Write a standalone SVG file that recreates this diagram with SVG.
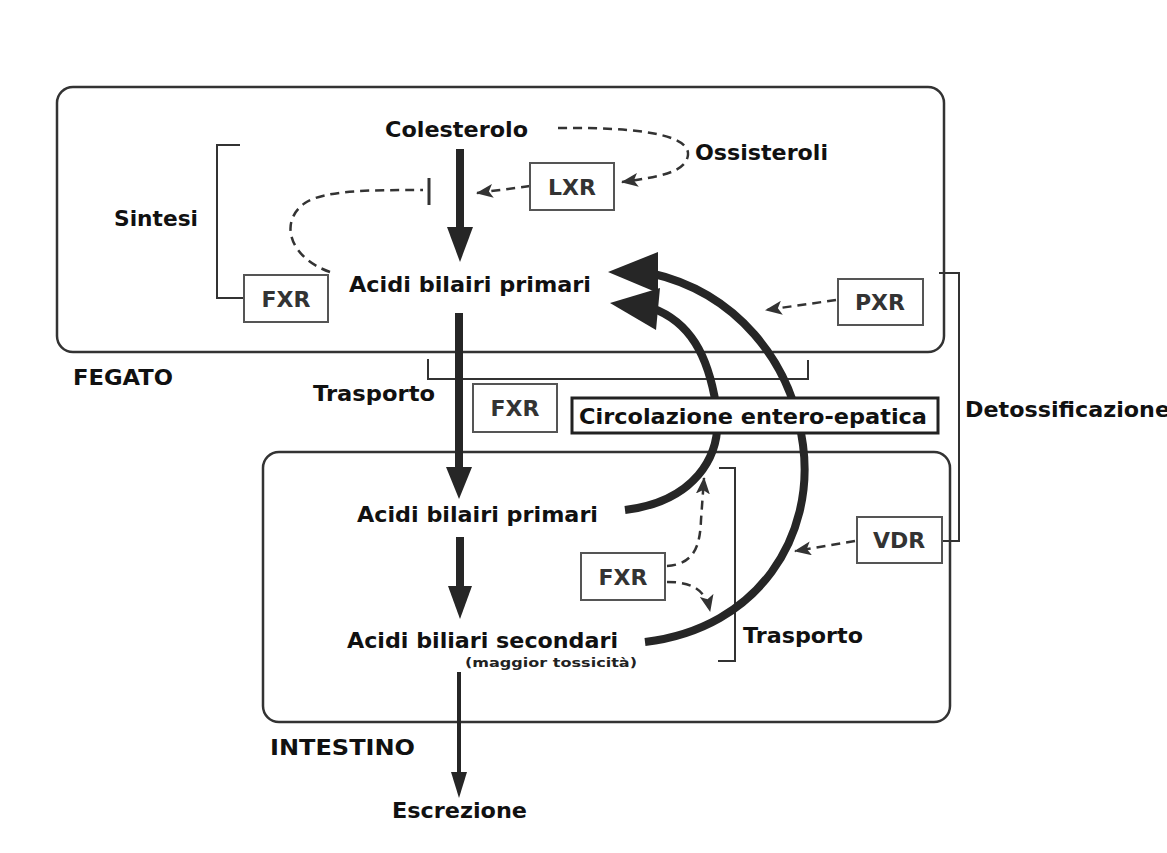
<svg xmlns="http://www.w3.org/2000/svg" width="1167" height="853" viewBox="0 0 1167 853">
<defs>
<style>
.region{fill:none;stroke:#333;stroke-width:2.5}
.box{fill:#fff;stroke:#555;stroke-width:2}
.bx{font-family:"DejaVu Sans",sans-serif;font-weight:bold;font-size:22px;fill:#333;text-anchor:middle}
.lbl{font-family:"DejaVu Sans",sans-serif;font-weight:bold;font-size:22px;fill:#111}
.brk{fill:none;stroke:#333;stroke-width:2}
.thick{fill:none;stroke:#262626;stroke-width:8}
.head{fill:#262626}
.dash{fill:none;stroke:#333;stroke-width:2.5;stroke-dasharray:9 6}
</style>
<marker id="ah" markerUnits="userSpaceOnUse" markerWidth="18" markerHeight="14" refX="16" refY="7" orient="auto">
<path d="M0,0 L17,7 L0,14 L4,7 z" fill="#333"/>
</marker>
</defs>
<rect width="1167" height="853" fill="#fff"/>

<g id="fegato">
<rect class="region" x="57" y="87" width="887" height="265" rx="16"/>
<text class="lbl" x="73" y="385" textLength="100" lengthAdjust="spacingAndGlyphs">FEGATO</text>
</g>
<g id="intestino">
<rect class="region" x="263" y="452" width="687" height="270" rx="16"/>
<text class="lbl" x="270" y="755" textLength="145" lengthAdjust="spacingAndGlyphs">INTESTINO</text>
</g>

<g id="brackets">
<path class="brk" d="M240,145 H217 V298 H244"/>
<path class="brk" d="M428,359 V379 H808 V360"/>
<path class="brk" d="M719,468 H735 V661 H718"/>
<path class="brk" d="M939,273 H959 V541 H942"/>
</g>

<g id="connectors">
<path class="thick" d="M460,149 V230"/>
<polygon class="head" points="447,227 473,227 460,262"/>
<path class="thick" d="M459,313 V470"/>
<polygon class="head" points="446,467 472,467 459,499"/>
<path class="thick" d="M460,537 V590"/>
<polygon class="head" points="448,586 472,586 460,619"/>
<path class="thick" style="stroke-width:4" d="M459,672 V776"/>
<polygon class="head" points="451,772 467,772 459,798"/>

<path class="thick" d="M645,642 C760,628 815,535 803,445 C792,360 735,292 650,273"/>
<polygon class="head" points="608,272 658,252 658,293"/>
<path class="thick" d="M625,510 C690,502 725,460 716,405 C708,355 690,322 652,308"/>
<polygon class="head" points="610,303 660,288 656,330"/>

<path class="dash" marker-end="url(#ah)" d="M558,128 C640,127 690,135 688,155 C686,172 660,177 622,182"/>
<path class="dash" marker-end="url(#ah)" d="M530,186 L477,193"/>
<path class="dash" d="M330,272 C290,258 278,222 305,203 C325,190 370,190 423,190"/>
<path fill="none" stroke="#333" stroke-width="3" d="M429,178 V205"/>
<path class="dash" marker-end="url(#ah)" d="M836,300 L766,310"/>
<path class="dash" marker-end="url(#ah)" d="M855,541 L795,551"/>
<path class="dash" marker-end="url(#ah)" d="M667,566 C695,564 700,545 701,520 L704,478"/>
<path class="dash" marker-end="url(#ah)" d="M667,582 C690,582 705,588 710,611"/>
</g>

<g id="colesterolo"><text class="lbl" x="385" y="137" textLength="143" lengthAdjust="spacingAndGlyphs">Colesterolo</text></g>
<g id="ossisteroli"><text class="lbl" x="695" y="160" textLength="133" lengthAdjust="spacingAndGlyphs">Ossisteroli</text></g>
<g id="sintesi"><text class="lbl" x="114" y="226" textLength="84" lengthAdjust="spacingAndGlyphs">Sintesi</text></g>
<g id="acidi-primari-fegato"><text class="lbl" x="349" y="292" textLength="242" lengthAdjust="spacingAndGlyphs">Acidi bilairi primari</text></g>
<g id="trasporto-1"><text class="lbl" x="313" y="401" textLength="122" lengthAdjust="spacingAndGlyphs">Trasporto</text></g>
<g id="detossificazione"><text class="lbl" x="965" y="417" textLength="205" lengthAdjust="spacingAndGlyphs">Detossificazione</text></g>
<g id="acidi-primari-intestino"><text class="lbl" x="357" y="522" textLength="241" lengthAdjust="spacingAndGlyphs">Acidi bilairi primari</text></g>
<g id="acidi-secondari">
<text class="lbl" x="347" y="648" textLength="271" lengthAdjust="spacingAndGlyphs">Acidi biliari secondari</text>
<text x="465" y="667" font-family="DejaVu Sans,sans-serif" font-weight="bold" font-size="13" fill="#222" textLength="172" lengthAdjust="spacingAndGlyphs">(maggior tossicità)</text>
</g>
<g id="trasporto-2"><text class="lbl" x="743" y="643" textLength="120" lengthAdjust="spacingAndGlyphs">Trasporto</text></g>
<g id="escrezione"><text class="lbl" x="392" y="818" textLength="135" lengthAdjust="spacingAndGlyphs">Escrezione</text></g>

<g id="lxr"><rect class="box" x="530" y="163" width="84" height="47"/><text class="bx" x="572" y="195">LXR</text></g>
<g id="fxr-fegato"><rect class="box" x="244" y="275" width="84" height="47"/><text class="bx" x="286" y="307">FXR</text></g>
<g id="pxr"><rect class="box" x="838" y="279" width="85" height="46"/><text class="bx" x="880" y="310">PXR</text></g>
<g id="fxr-trasporto"><rect class="box" x="473" y="384" width="84" height="48"/><text class="bx" x="515" y="416">FXR</text></g>
<g id="circolazione"><rect fill="#fff" stroke="#222" stroke-width="3" x="572" y="398" width="366" height="35"/><text class="lbl" x="579" y="424" textLength="348" lengthAdjust="spacingAndGlyphs">Circolazione entero-epatica</text></g>
<g id="fxr-intestino"><rect class="box" x="581" y="553" width="84" height="47"/><text class="bx" x="623" y="585">FXR</text></g>
<g id="vdr"><rect class="box" x="857" y="517" width="85" height="46"/><text class="bx" x="899" y="548">VDR</text></g>
</svg>
